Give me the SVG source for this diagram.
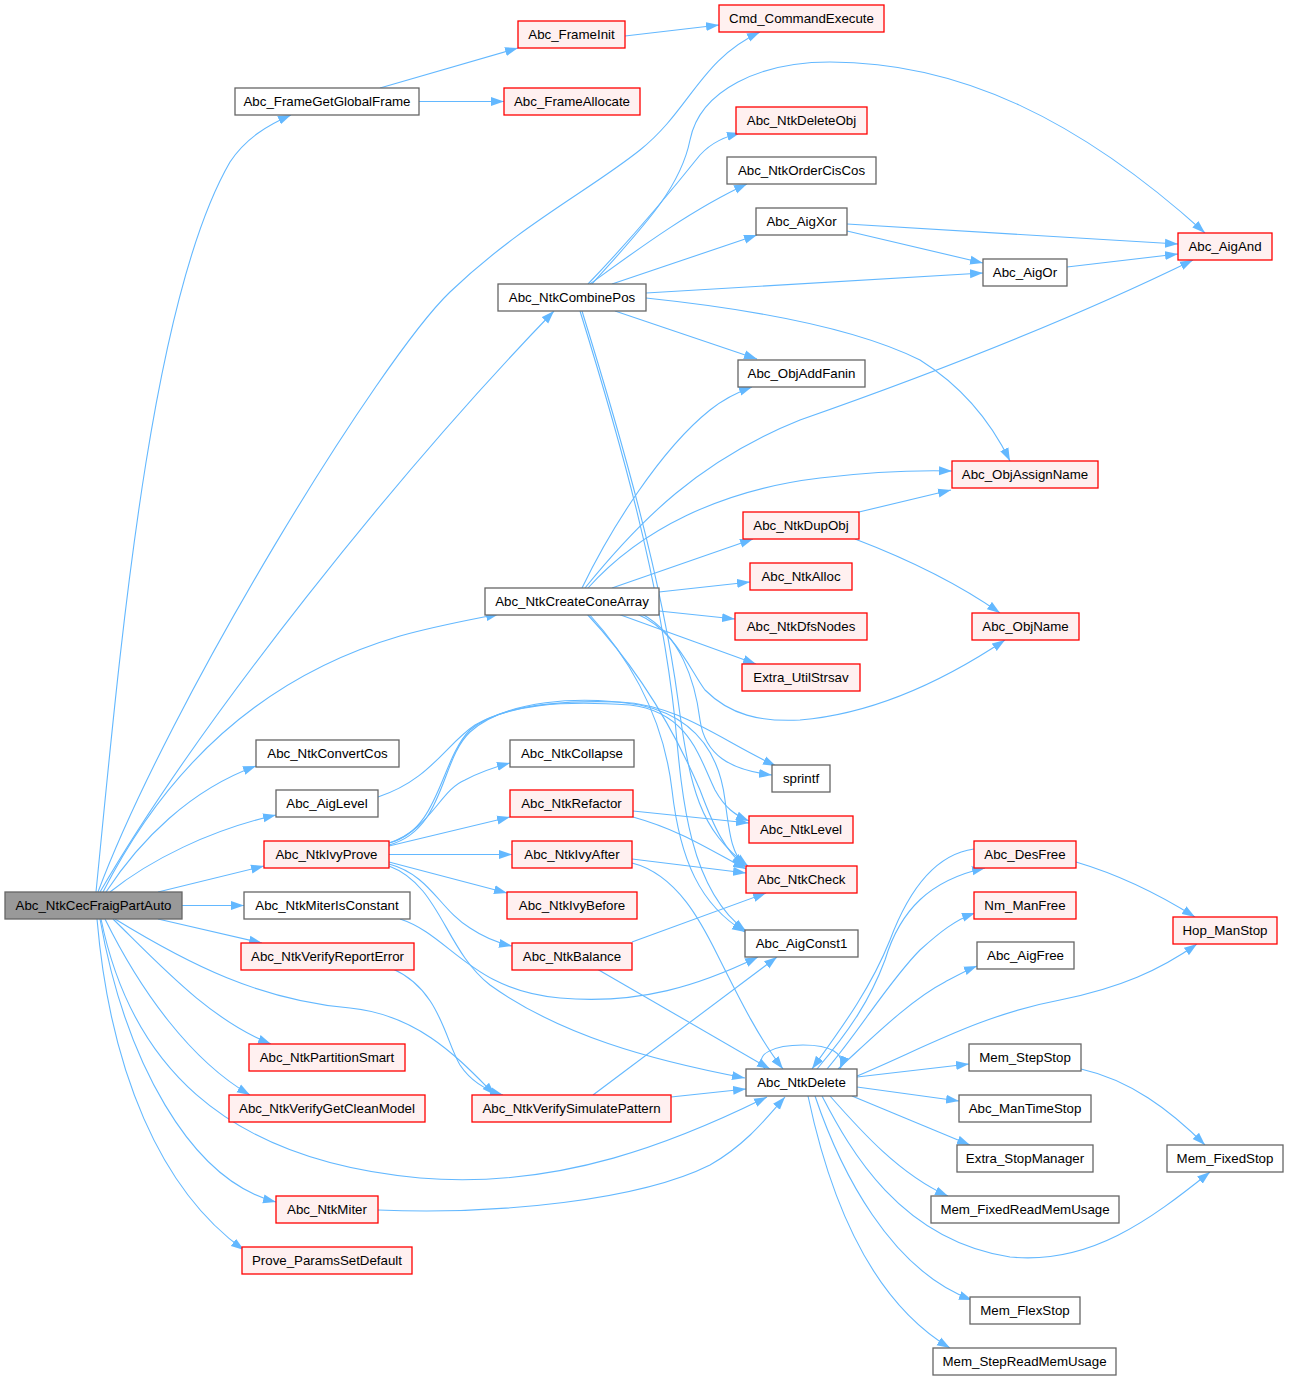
<svg xmlns="http://www.w3.org/2000/svg" width="1289" height="1380" viewBox="0 0 1289 1380">
<style>
.e{fill:none;stroke:#63B8FF;stroke-width:1.1;marker-end:url(#ah)}
.n rect{fill:#FFFFFF;stroke:#666666;stroke-width:1.3}
.r rect{fill:#FFF0F0;stroke:#FF0000;stroke-width:1.3}
.g rect{fill:#999999;stroke:#666666;stroke-width:1.3}
text{font-family:"Liberation Sans",Arial,sans-serif;font-size:13.3px;fill:#000000;text-anchor:middle}
</style>
<defs>
<marker id="ah" markerUnits="userSpaceOnUse" markerWidth="13" markerHeight="10" viewBox="0 0 13 10" refX="13" refY="5" orient="auto">
<path d="M0,0.5 L13,5 L0,9.5 z" fill="#63B8FF"/>
</marker>
</defs>
<rect width="1289" height="1380" fill="#FFFFFF"/>
<g id="edges">
<path class="e" d="M96,892 C120,650 150,300 230,162 C246,138 268,125 291,115"/>
<path class="e" d="M98,892 C170,700 380,359 450,292 C520,225 590,190 640,150 C690,110 700,60 760,32"/>
<path class="e" d="M100,892 C200,720 400,470 554,311"/>
<path class="e" d="M103,892 C160,780 250,680 400,636 C440,625 470,620 499,614"/>
<path class="e" d="M106,892 C140,840 190,790 256,766"/>
<path class="e" d="M110,892 C150,860 210,830 276,815"/>
<path class="e" d="M158,892 L264,866"/>
<path class="e" d="M182,905.5 L244,905.5"/>
<path class="e" d="M158,919 L262,943"/>
<path class="e" d="M113,919 C160,965 210,1020 271,1044"/>
<path class="e" d="M105,919 C140,990 190,1060 250,1095"/>
<path class="e" d="M100,919 C125,1060 190,1180 276,1202"/>
<path class="e" d="M97,919 C110,1070 160,1190 244,1250"/>
<path class="e" d="M101,919 C130,1060 220,1160 420,1178 C560,1190 680,1140 767,1097"/>
<path class="e" d="M115,919 C190,965 260,1000 350,1008 C420,1015 460,1060 495,1095"/>
<path class="e" d="M393,969 C440,990 445,1040 460,1065 C470,1080 485,1090 503,1095"/>
<path class="e" d="M400,919 C450,935 470,990 560,998 C640,1005 700,985 758,957"/>
<path class="e" d="M380,88 L518,48"/>
<path class="e" d="M419,101.5 L504,101.5"/>
<path class="e" d="M625,36 L719,25"/>
<path class="e" d="M588,284 C640,230 680,180 700,155 C712,142 725,137 740,133"/>
<path class="e" d="M590,284 C630,255 690,210 747,184"/>
<path class="e" d="M612,284 L757,235"/>
<path class="e" d="M592,284 C640,230 680,190 690,140 C700,90 760,62 830,62 C960,62 1080,120 1205,233"/>
<path class="e" d="M646,293 L983,273"/>
<path class="e" d="M615,311 L757,359"/>
<path class="e" d="M646,298 C760,310 860,330 920,360 C960,385 990,420 1010,461"/>
<path class="e" d="M580,311 C620,440 660,580 675,720 C682,800 690,890 746,931"/>
<path class="e" d="M582,311 C622,440 662,580 678,700 C690,790 700,830 748,866"/>
<path class="e" d="M582,588 C610,530 660,450 710,410 C725,398 738,392 752,387"/>
<path class="e" d="M585,588 C640,520 700,460 800,420 C900,385 1050,330 1193,260"/>
<path class="e" d="M588,588 C640,530 720,490 820,478 C870,472 910,470 952,471"/>
<path class="e" d="M612,588 L753,539"/>
<path class="e" d="M659,592 L750,582"/>
<path class="e" d="M659,611 L735,619"/>
<path class="e" d="M618,614 L756,664"/>
<path class="e" d="M637,614 C675,630 690,670 705,690 C730,715 760,722 800,720 C860,715 930,690 1005,640"/>
<path class="e" d="M642,614 C680,635 695,680 700,720 C705,755 730,770 772,775"/>
<path class="e" d="M587,614 C630,660 670,720 700,790 C715,830 725,850 745,867"/>
<path class="e" d="M589,614 C640,670 665,730 672,790 C680,860 700,905 745,932"/>
<path class="e" d="M389,843 C430,830 440,790 465,780 C480,772 495,767 510,763"/>
<path class="e" d="M389,846 L510,817"/>
<path class="e" d="M389,854.5 L512,854.5"/>
<path class="e" d="M389,862 L507,893"/>
<path class="e" d="M389,864 C430,875 440,910 470,928 C485,938 498,943 512,946"/>
<path class="e" d="M389,866 C440,885 445,950 490,985 C560,1035 650,1060 745,1078"/>
<path class="e" d="M389,843 C440,830 440,760 470,730 C500,705 560,700 620,702 C680,705 720,740 776,766"/>
<path class="e" d="M389,845 C445,830 440,760 470,732 C505,700 580,695 640,705 C700,718 720,760 725,800 C730,840 733,855 745,866"/>
<path class="e" d="M378,797 C430,780 445,745 475,725 C510,705 560,700 630,705 C690,712 700,760 715,790 C725,808 735,815 749,821"/>
<path class="e" d="M633,811 L749,823"/>
<path class="e" d="M633,817 C680,830 710,850 746,869"/>
<path class="e" d="M632,859 L746,873"/>
<path class="e" d="M632,863 C680,875 705,930 720,960 C740,1000 760,1040 783,1069"/>
<path class="e" d="M632,942 L766,893"/>
<path class="e" d="M597,969 L770,1069"/>
<path class="e" d="M593,1095 L777,957"/>
<path class="e" d="M671,1097 L746,1089"/>
<path class="e" d="M378,1210 C500,1215 640,1200 710,1165 C745,1145 765,1120 785,1097"/>
<path class="e" d="M765,1069 C752,1054 775,1045 803,1045 C830,1045 846,1053 840,1069"/>
<path class="e" d="M817,1069 C850,1030 870,1000 885,960 C900,910 930,880 985,868"/>
<path class="e" d="M974,849 C930,855 905,900 890,940 C870,990 840,1030 812,1069"/>
<path class="e" d="M827,1069 C860,1030 890,980 920,950 C940,932 955,920 975,913"/>
<path class="e" d="M838,1069 C870,1040 910,1000 945,982 C958,975 967,970 977,966"/>
<path class="e" d="M857,1076 C920,1050 980,1015 1060,1000 C1120,988 1160,970 1197,944"/>
<path class="e" d="M1076,862 C1120,875 1160,895 1195,917"/>
<path class="e" d="M857,1077 L969,1064"/>
<path class="e" d="M857,1087 L959,1101"/>
<path class="e" d="M852,1096 L970,1145"/>
<path class="e" d="M830,1096 C860,1130 900,1175 948,1196"/>
<path class="e" d="M822,1096 C850,1150 900,1240 1010,1257 C1090,1265 1150,1220 1210,1172"/>
<path class="e" d="M815,1096 C840,1170 890,1270 972,1300"/>
<path class="e" d="M808,1096 C830,1200 870,1300 950,1348"/>
<path class="e" d="M1081,1069 C1130,1080 1170,1110 1205,1145"/>
<path class="e" d="M859,512 L951,490"/>
<path class="e" d="M855,539 C910,560 960,585 1000,613"/>
<path class="e" d="M847,224 L1178,244"/>
<path class="e" d="M847,231 L983,263"/>
<path class="e" d="M1067,267 L1178,254"/>
</g>
<g id="n_root" class="g"><rect x="5" y="892" width="177" height="27"/><text x="93.5" y="910">Abc_NtkCecFraigPartAuto</text></g>
<g id="n_FrameGetGlobalFrame" class="n"><rect x="235" y="88" width="184" height="27"/><text x="327" y="106">Abc_FrameGetGlobalFrame</text></g>
<g id="n_FrameInit" class="r"><rect x="518" y="21" width="107" height="27"/><text x="571.5" y="39">Abc_FrameInit</text></g>
<g id="n_CmdCommandExecute" class="r"><rect x="719" y="5" width="165" height="27"/><text x="801.5" y="23">Cmd_CommandExecute</text></g>
<g id="n_FrameAllocate" class="r"><rect x="504" y="88" width="136" height="27"/><text x="572" y="106">Abc_FrameAllocate</text></g>
<g id="n_NtkDeleteObj" class="r"><rect x="736" y="107" width="131" height="27"/><text x="801.5" y="125">Abc_NtkDeleteObj</text></g>
<g id="n_NtkOrderCisCos" class="n"><rect x="727" y="157" width="149" height="27"/><text x="801.5" y="175">Abc_NtkOrderCisCos</text></g>
<g id="n_AigXor" class="n"><rect x="756" y="208" width="91" height="27"/><text x="801.5" y="226">Abc_AigXor</text></g>
<g id="n_AigAnd" class="r"><rect x="1178" y="233" width="94" height="27"/><text x="1225" y="251">Abc_AigAnd</text></g>
<g id="n_AigOr" class="n"><rect x="983" y="259" width="84" height="27"/><text x="1025" y="277">Abc_AigOr</text></g>
<g id="n_NtkCombinePos" class="n"><rect x="498" y="284" width="148" height="27"/><text x="572" y="302">Abc_NtkCombinePos</text></g>
<g id="n_ObjAddFanin" class="n"><rect x="738" y="360" width="127" height="27"/><text x="801.5" y="378">Abc_ObjAddFanin</text></g>
<g id="n_ObjAssignName" class="r"><rect x="952" y="461" width="146" height="27"/><text x="1025" y="479">Abc_ObjAssignName</text></g>
<g id="n_NtkDupObj" class="r"><rect x="743" y="512" width="116" height="27"/><text x="801" y="530">Abc_NtkDupObj</text></g>
<g id="n_NtkAlloc" class="r"><rect x="750" y="563" width="102" height="27"/><text x="801" y="581">Abc_NtkAlloc</text></g>
<g id="n_NtkCreateConeArray" class="n"><rect x="485" y="588" width="174" height="27"/><text x="572" y="606">Abc_NtkCreateConeArray</text></g>
<g id="n_ObjName" class="r"><rect x="972" y="613" width="107" height="27"/><text x="1025.5" y="631">Abc_ObjName</text></g>
<g id="n_NtkDfsNodes" class="r"><rect x="735" y="613" width="132" height="27"/><text x="801" y="631">Abc_NtkDfsNodes</text></g>
<g id="n_ExtraUtilStrsav" class="r"><rect x="742" y="664" width="118" height="27"/><text x="801" y="682">Extra_UtilStrsav</text></g>
<g id="n_NtkConvertCos" class="n"><rect x="256" y="740" width="143" height="27"/><text x="327.5" y="758">Abc_NtkConvertCos</text></g>
<g id="n_NtkCollapse" class="n"><rect x="510" y="740" width="124" height="27"/><text x="572" y="758">Abc_NtkCollapse</text></g>
<g id="n_sprintf" class="n"><rect x="772" y="765" width="58" height="27"/><text x="801" y="783">sprintf</text></g>
<g id="n_AigLevel" class="n"><rect x="276" y="790" width="102" height="27"/><text x="327" y="808">Abc_AigLevel</text></g>
<g id="n_NtkRefactor" class="r"><rect x="510" y="790" width="123" height="27"/><text x="571.5" y="808">Abc_NtkRefactor</text></g>
<g id="n_NtkLevel" class="r"><rect x="749" y="816" width="104" height="27"/><text x="801" y="834">Abc_NtkLevel</text></g>
<g id="n_NtkIvyProve" class="r"><rect x="264" y="841" width="125" height="27"/><text x="326.5" y="859">Abc_NtkIvyProve</text></g>
<g id="n_NtkIvyAfter" class="r"><rect x="512" y="841" width="120" height="27"/><text x="572" y="859">Abc_NtkIvyAfter</text></g>
<g id="n_DesFree" class="r"><rect x="974" y="841" width="102" height="27"/><text x="1025" y="859">Abc_DesFree</text></g>
<g id="n_NtkCheck" class="r"><rect x="746" y="866" width="111" height="27"/><text x="801.5" y="884">Abc_NtkCheck</text></g>
<g id="n_NtkMiterIsConstant" class="n"><rect x="244" y="892" width="166" height="27"/><text x="327" y="910">Abc_NtkMiterIsConstant</text></g>
<g id="n_NtkIvyBefore" class="r"><rect x="507" y="892" width="130" height="27"/><text x="572" y="910">Abc_NtkIvyBefore</text></g>
<g id="n_NmManFree" class="r"><rect x="974" y="892" width="102" height="27"/><text x="1025" y="910">Nm_ManFree</text></g>
<g id="n_HopManStop" class="r"><rect x="1173" y="917" width="104" height="27"/><text x="1225" y="935">Hop_ManStop</text></g>
<g id="n_AigConst1" class="n"><rect x="745" y="930" width="113" height="27"/><text x="801.5" y="948">Abc_AigConst1</text></g>
<g id="n_NtkVerifyReportError" class="r"><rect x="241" y="943" width="173" height="27"/><text x="327.5" y="961">Abc_NtkVerifyReportError</text></g>
<g id="n_NtkBalance" class="r"><rect x="512" y="943" width="120" height="27"/><text x="572" y="961">Abc_NtkBalance</text></g>
<g id="n_AigFree" class="n"><rect x="977" y="942" width="97" height="27"/><text x="1025.5" y="960">Abc_AigFree</text></g>
<g id="n_NtkPartitionSmart" class="r"><rect x="249" y="1044" width="156" height="27"/><text x="327" y="1062">Abc_NtkPartitionSmart</text></g>
<g id="n_MemStepStop" class="n"><rect x="969" y="1044" width="112" height="27"/><text x="1025" y="1062">Mem_StepStop</text></g>
<g id="n_NtkDelete" class="n"><rect x="746" y="1069" width="111" height="27"/><text x="801.5" y="1087">Abc_NtkDelete</text></g>
<g id="n_NtkVerifyGetCleanModel" class="r"><rect x="229" y="1095" width="196" height="27"/><text x="327" y="1113">Abc_NtkVerifyGetCleanModel</text></g>
<g id="n_NtkVerifySimulatePattern" class="r"><rect x="472" y="1095" width="199" height="27"/><text x="571.5" y="1113">Abc_NtkVerifySimulatePattern</text></g>
<g id="n_ManTimeStop" class="n"><rect x="959" y="1095" width="132" height="27"/><text x="1025" y="1113">Abc_ManTimeStop</text></g>
<g id="n_MemFixedStop" class="n"><rect x="1167" y="1145" width="116" height="27"/><text x="1225" y="1163">Mem_FixedStop</text></g>
<g id="n_ExtraStopManager" class="n"><rect x="957" y="1145" width="136" height="27"/><text x="1025" y="1163">Extra_StopManager</text></g>
<g id="n_NtkMiter" class="r"><rect x="276" y="1196" width="102" height="27"/><text x="327" y="1214">Abc_NtkMiter</text></g>
<g id="n_MemFixedReadMemUsage" class="n"><rect x="931" y="1196" width="188" height="27"/><text x="1025" y="1214">Mem_FixedReadMemUsage</text></g>
<g id="n_ProveParamsSetDefault" class="r"><rect x="242" y="1247" width="170" height="27"/><text x="327" y="1265">Prove_ParamsSetDefault</text></g>
<g id="n_MemFlexStop" class="n"><rect x="970" y="1297" width="110" height="27"/><text x="1025" y="1315">Mem_FlexStop</text></g>
<g id="n_MemStepReadMemUsage" class="n"><rect x="933" y="1348" width="183" height="27"/><text x="1024.5" y="1366">Mem_StepReadMemUsage</text></g>
</svg>
